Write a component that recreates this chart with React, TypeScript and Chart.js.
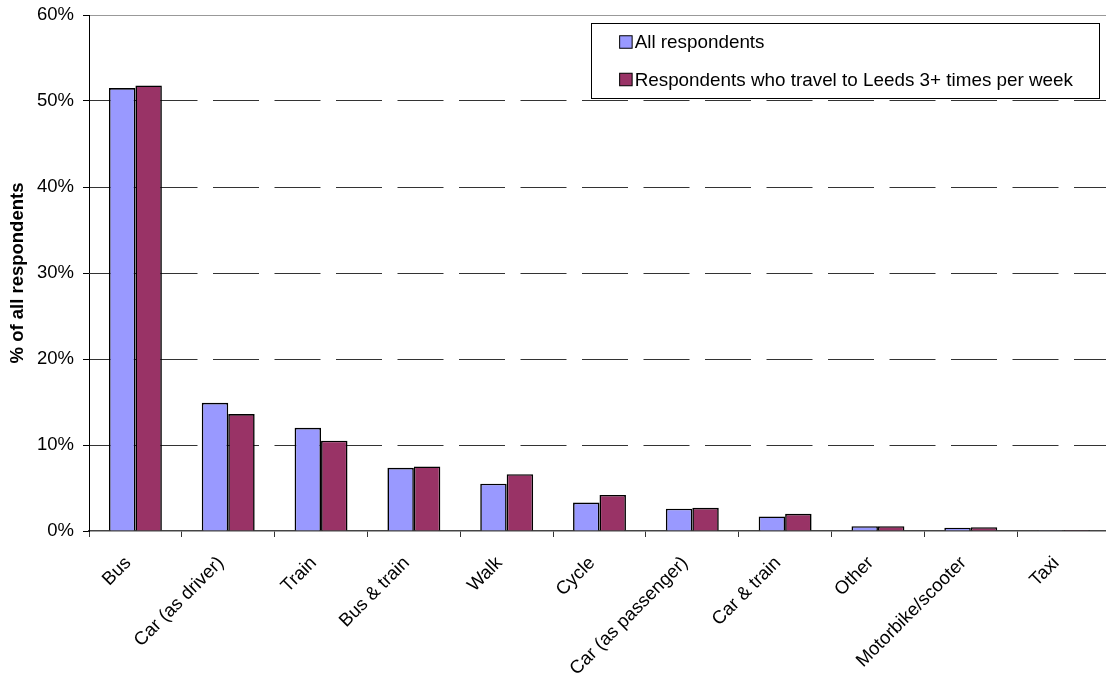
import React, { useEffect, useRef } from "react";
import { Chart, registerables } from "chart.js";

Chart.register(...registerables);

const categories = [
  "Bus",
  "Car (as driver)",
  "Train",
  "Bus & train",
  "Walk",
  "Cycle",
  "Car (as passenger)",
  "Car & train",
  "Other",
  "Motorbike/scooter",
  "Taxi",
];

const allRespondents = [51.5, 14.9, 12.0, 7.35, 5.5, 3.3, 2.6, 1.7, 0.55, 0.38, 0.1];
const frequentTravellers = [51.8, 13.6, 10.5, 7.5, 6.6, 4.2, 2.7, 2.0, 0.55, 0.45, 0.12];

const seriesLabels = ["All respondents", "Respondents who travel to Leeds 3+ times per week"];
const seriesColors = ["#9999FF", "#993366"];

const yTicks = [0, 10, 20, 30, 40, 50, 60];
const yTitle = "% of all respondents";

const FONT = "'Liberation Sans', Arial, sans-serif";
const FSIZE = 18.5;
const LEGEND_FSIZE = 18.85;

const boxLegend = {
  id: "boxLegend",
  afterDraw(chart: any) {
    const { ctx, chartArea } = chart;
    const datasets = chart.data.datasets;
    ctx.save();
    ctx.font = `${LEGEND_FSIZE}px ${FONT}`;
    let maxW = 0;
    datasets.forEach((d: any) => {
      maxW = Math.max(maxW, ctx.measureText(d.label).width);
    });
    const padL = 28.5;
    const padR = 26;
    const marker = 12.5;
    const gap = 2.5;
    const w = padL + marker + gap + maxW + padR;
    const right = chartArea.right - 11;
    const left = right - w;
    const top = chartArea.top + 7.5;
    const bottom = top + 74.5;
    ctx.fillStyle = "#fff";
    ctx.fillRect(left, top, w, bottom - top);
    ctx.strokeStyle = "#000";
    ctx.lineWidth = 1;
    ctx.strokeRect(Math.round(left) + 0.5, Math.round(top) + 0.5, Math.round(w), Math.round(bottom - top));
    const rows = [top + 19.5, top + 57];
    datasets.forEach((d: any, i: number) => {
      const cy = rows[i];
      const mx = left + padL;
      ctx.fillStyle = d.backgroundColor;
      ctx.fillRect(mx, cy - marker / 2, marker, marker);
      ctx.strokeStyle = "#000";
      ctx.lineWidth = 1;
      ctx.strokeRect(mx, cy - marker / 2, marker, marker);
      ctx.fillStyle = "#000";
      ctx.textBaseline = "middle";
      ctx.textAlign = "left";
      ctx.fillText(d.label, mx + marker + gap, cy + 1);
    });
    ctx.restore();
  },
};

export default function App() {
  const canvasRef = useRef<HTMLCanvasElement | null>(null);

  useEffect(() => {
    if (!canvasRef.current) return;
    const chart = new Chart(canvasRef.current, {
      type: "bar",
      data: {
        labels: categories,
        datasets: [
          {
            label: seriesLabels[0],
            data: allRespondents,
            backgroundColor: seriesColors[0],
            borderColor: "#000",
            borderWidth: 1.6,
            categoryPercentage: 0.57,
            barPercentage: 1,
          },
          {
            label: seriesLabels[1],
            data: frequentTravellers,
            backgroundColor: seriesColors[1],
            borderColor: "#000",
            borderWidth: 1.6,
            categoryPercentage: 0.57,
            barPercentage: 1,
          },
        ],
      },
      options: {
        responsive: false,
        animation: false,
        layout: { padding: { top: 15, right: 2, left: 0, bottom: 0 } },
        plugins: {
          legend: { display: false },
          tooltip: { enabled: false },
        },
        scales: {
          x: {
            afterFit: (s: any) => {
              s.height = 143;
            },
            grid: {
              offset: true,
              drawOnChartArea: false,
              tickLength: 6,
              tickColor: "#333",
              tickWidth: 1,
            },
            border: { color: "#444", width: 1.5 },
            ticks: {
              autoSkip: false,
              minRotation: 45,
              maxRotation: 45,
              padding: 8,
              color: "#000",
              font: { family: FONT, size: FSIZE },
              callback: (_v: any, i: number) => categories[i] + "  ",
            },
          },
          y: {
            min: 0,
            max: 60,
            afterFit: (s: any) => {
              s.width = 89;
              s.paddingTop = 0;
              s.paddingBottom = 0;
            },
            afterBuildTicks: (s: any) => {
              s.ticks = yTicks.map((v) => ({ value: v }));
            },
            grid: {
              tickLength: 6,
              tickColor: "#000",
              lineWidth: 1,
              color: (c: any) => {
                const v = c.tick ? c.tick.value : null;
                if (v === 0) return "rgba(0,0,0,0)";
                if (v === 60) return "#999";
                return "#333";
              },
            },
            border: {
              color: "#000",
              width: 1,
              dash: (c: any) => (c.tick && c.tick.value === 60 ? [] : [46, 15.5]),
            },
            ticks: {
              padding: 9,
              color: "#000",
              font: { family: FONT, size: FSIZE },
              callback: (v: any) => `${v}%`,
            },
            title: {
              display: true,
              text: yTitle,
              color: "#000",
              font: { family: FONT, size: FSIZE, weight: "bold" },
              padding: { top: 7, bottom: 0 },
            },
          },
        },
      },
      plugins: [boxLegend],
    });
    return () => chart.destroy();
  }, []);

  return (
    <div
      style={{
        position: "absolute",
        left: 0,
        top: 0,
        width: 1106,
        height: 674,
        overflow: "hidden",
        background: "#fff",
      }}
    >
      <canvas ref={canvasRef} width={1112} height={674} style={{ width: 1112, height: 674, display: "block" }} />
    </div>
  );
}
